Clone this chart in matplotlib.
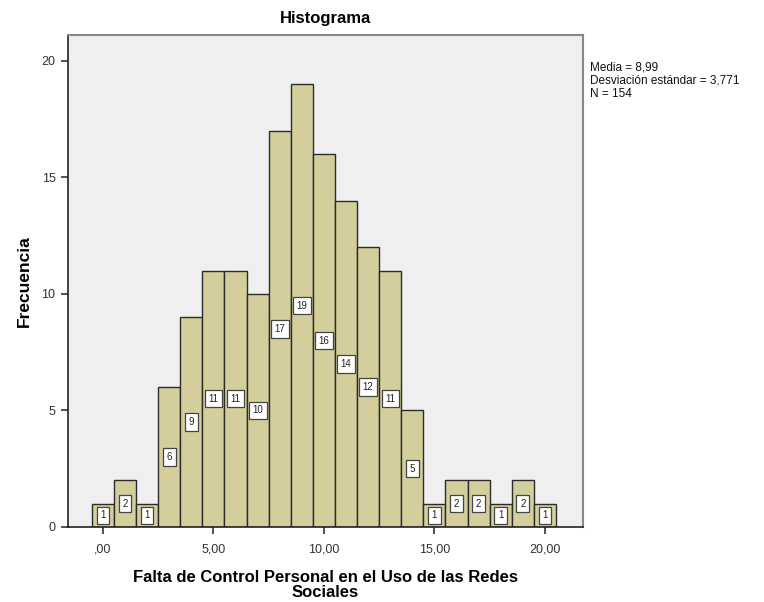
import numpy as np
import matplotlib.pyplot as plt

# Histogram data
bins = list(range(0, 21))
freq = [1, 2, 1, 6, 9, 11, 11, 10, 17, 19, 16, 14, 12, 11, 5, 1, 2, 2, 1, 2, 1]
xticks = [0, 5, 10, 15, 20]
xtick_labels = [',00', '5,00', '10,00', '15,00', '20,00']
yticks = [0, 5, 10, 15, 20]
stats_text = 'Media = 8,99\nDesviación estándar = 3,771\nN = 154'

plt.rcParams['font.family'] = ['Liberation Sans', 'DejaVu Sans']

fig = plt.figure(figsize=(7.64, 6.02), dpi=100)
ax = fig.add_axes([0.089, 0.1246, 0.674, 0.817])
ax.set_facecolor('#efefef')

ax.bar(bins, freq, width=1.0, color='#d3ce9b', edgecolor='#2b2b2b', linewidth=1.0, zorder=2)

# Count labels at half height
for x, f in zip(bins, freq):
    ax.text(x, f / 2, str(f), ha='center', va='center', fontsize=7, color='#222222', zorder=3,
            bbox=dict(boxstyle='square,pad=0.38', facecolor='white', edgecolor='#444444', linewidth=0.9))

ax.set_xlim(-1.58, 21.72)
ax.set_ylim(0, 21.1)
ax.set_xticks(xticks)
ax.set_xticklabels(xtick_labels)
ax.set_yticks(yticks)
ax.tick_params(axis='both', labelsize=9, colors='#333333', length=5, width=1.2, direction='out', pad=4)
ax.tick_params(axis='x', pad=7)

for side in ['left', 'bottom']:
    ax.spines[side].set_color('#222222')
    ax.spines[side].set_linewidth(1.2)
for side in ['top', 'right']:
    ax.spines[side].set_color('#888888')
    ax.spines[side].set_linewidth(1.5)

ax.set_title('Histograma', fontsize=12, fontweight='bold', pad=9)
ax.set_xlabel('Falta de Control Personal en el Uso de las Redes\nSociales', fontsize=12,
              fontweight='bold', labelpad=10, linespacing=1.05)
ax.set_ylabel('Frecuencia', fontsize=12.5, fontweight='bold', labelpad=7)

fig.text(0.772, 0.898, stats_text, fontsize=8.5, va='top', ha='left', linespacing=1.15, color='#111111')

plt.savefig('out.png', dpi=100)
